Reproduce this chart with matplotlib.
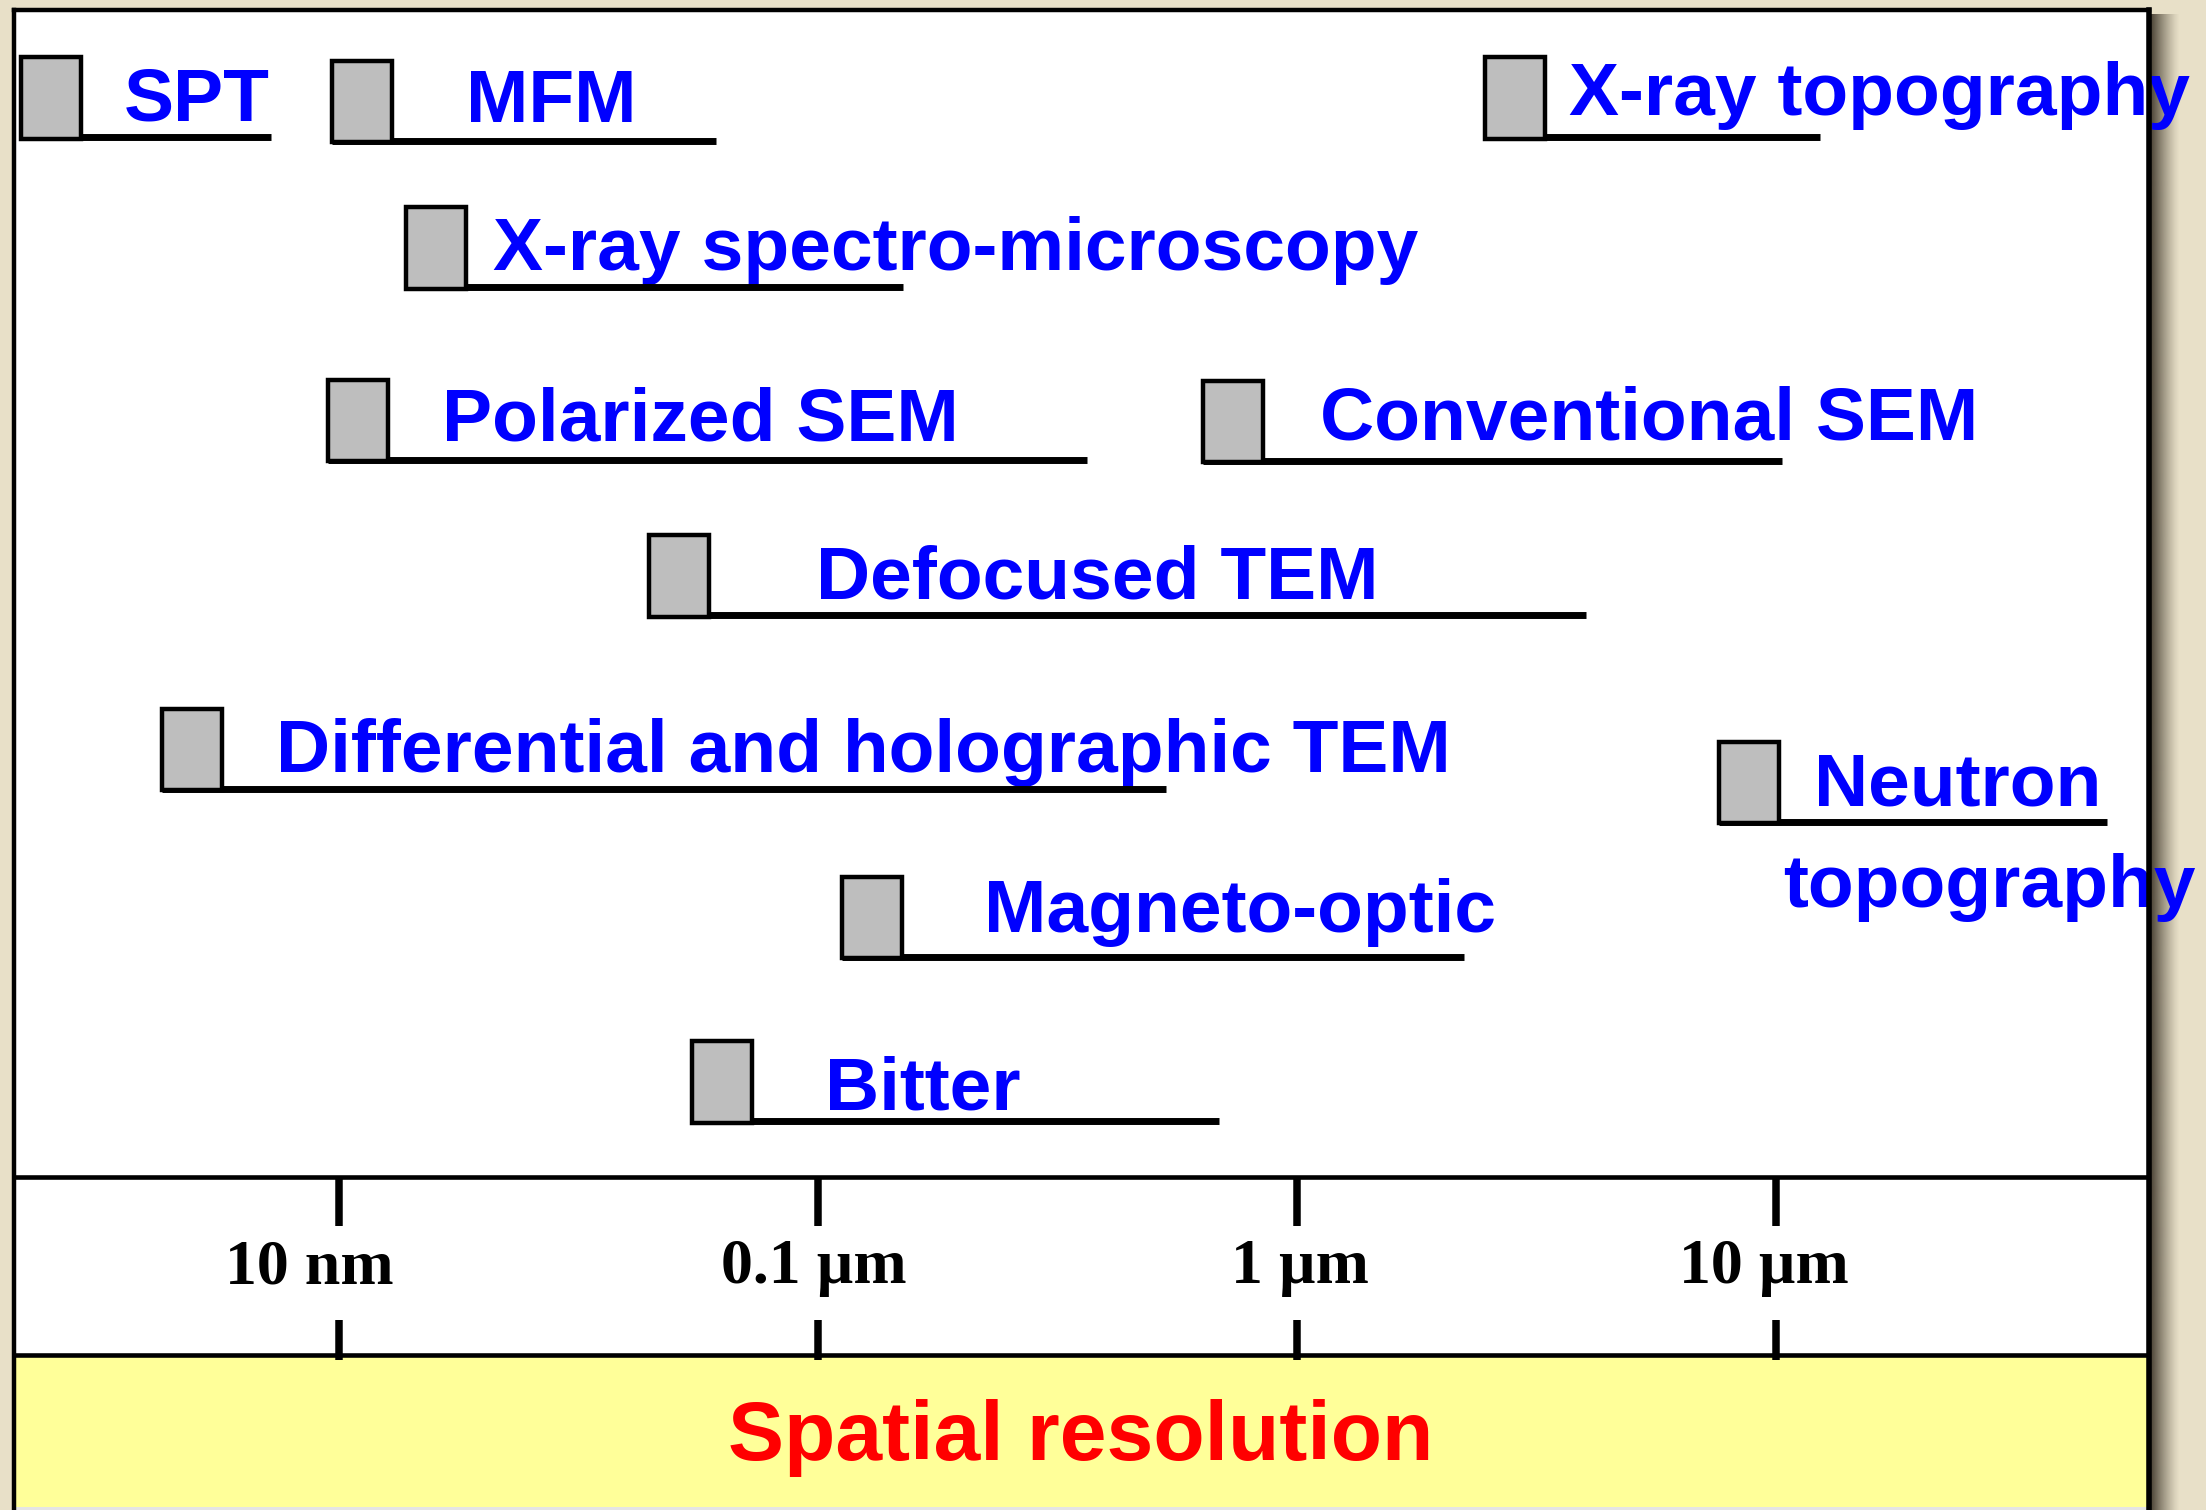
import numpy as np
import matplotlib
matplotlib.use("Agg")
import matplotlib.pyplot as plt
from matplotlib.patches import Rectangle
from matplotlib.transforms import ScaledTranslation, blended_transform_factory

# ---- resolution ranges of magnetic imaging techniques (micrometres) ----
TECHNIQUES = [
    "SPT",
    "MFM",
    "X-ray topography",
    "X-ray spectro-microscopy",
    "Polarized SEM",
    "Conventional SEM",
    "Defocused TEM",
    "Differential and holographic TEM",
    "Neutron\ntopography",
    "Magneto-optic",
    "Bitter",
]
RES_MIN_UM = [0.00216, 0.00966, 2.47, 0.01376, 0.00946, 0.637, 0.0444,
              0.00426, 7.62, 0.112, 0.0545]
RES_MAX_UM = [0.00719, 0.0612, 12.4, 0.1505, 0.365, 10.3, 4.01,
              0.534, 49.1, 2.23, 0.686]

TICK_VALUES_UM = [0.01, 0.1, 1.0, 10.0]
TICK_LABELS = ["10 nm", "0.1 µm", "1 µm", "10 µm"]
AXIS_TITLE = "Spatial resolution"

# ---- layout (vertical unit = 100 px from the top of the figure) ----
W_PX, H_PX, DPI = 2206, 1510, 100
ROW_Y = [1.373, 1.405, 1.373, 2.873, 4.595, 4.607, 6.153, 7.887, 8.217,
         9.567, 11.21]
LABEL_X_UM = [[0.00355], [0.0184], [3.70], [0.0209], [0.0164], [1.115],
              [0.0990], [0.00736], [12.0, 10.35], [0.2225], [0.1035]]
LABEL_BASE_Y = [[1.20], [1.22], [1.15], [2.70], [4.40], [4.39], [5.98],
                [7.72], [8.05, 9.07], [9.32], [11.09]]
TICK_LABEL_SHIFT_PX = [-30, -4, 3, -12]

XLIM_UM = (0.0020893, 60.07)
PANEL_LEFT_PX, PANEL_RIGHT_PX, PANEL_TOP_PX = 13.7, 2148.5, 10.3
BOX_DECADES = 0.1253
BOX_TOP_OFF, BOX_BOT_OFF = 0.80, 0.015

AXIS_LINE_Y, BAND_LINE_Y = 11.77, 13.545
TICK_UP = (11.77, 12.26)
TICK_DOWN = (13.20, 13.60)
TICK_LABEL_BASE = 12.83
YELLOW_SPAN = (13.57, 15.07)
TITLE_BASE = 14.60

BG = "#E8E0C8"
BLUE = "#0000FF"
RED = "#FF0000"
BOX_FACE = "#BEBEBE"
YELLOW = "#FFFF99"

fig = plt.figure(figsize=(W_PX / DPI, H_PX / DPI), dpi=DPI, facecolor=BG)

# soft drop shadow along the right edge of the panel
sax = fig.add_axes([2150 / W_PX, 0, 30 / W_PX, 1 - 14 / H_PX])
g = np.linspace(1.0, 0.0, 80) ** 1.3
shadow = np.zeros((1, g.size, 4))
shadow[..., 0] = 60 / 255
shadow[..., 1] = 52 / 255
shadow[..., 2] = 40 / 255
shadow[..., 3] = 0.95 * g
sax.imshow(shadow, aspect="auto", extent=(0, 1, 0, 1))
sax.set_axis_off()

ax = fig.add_axes([PANEL_LEFT_PX / W_PX, 0,
                   (PANEL_RIGHT_PX - PANEL_LEFT_PX) / W_PX,
                   1 - PANEL_TOP_PX / H_PX])
ax.set_facecolor("white")
ax.set_xscale("log")
ax.set_xlim(*XLIM_UM)
ax.set_ylim(H_PX / 100, PANEL_TOP_PX / 100)
ax.set_xticks([])
ax.set_yticks([])
ax.xaxis.set_minor_locator(matplotlib.ticker.NullLocator())
for side in ("left", "top"):
    ax.spines[side].set_linewidth(3.2)
ax.spines["right"].set_linewidth(4.0)
ax.spines["bottom"].set_visible(False)
for sp in ax.spines.values():
    sp.set_zorder(6)

label_font = dict(family="Liberation Sans", weight="bold", size=54,
                  color=BLUE)

# resolution ranges: grey box at the finest resolution, line up to the coarsest
for name, lo, hi, y, lxs, lys in zip(TECHNIQUES, RES_MIN_UM, RES_MAX_UM,
                                     ROW_Y, LABEL_X_UM, LABEL_BASE_Y):
    ax.plot([lo, hi], [y, y], color="black", lw=5.0,
            solid_capstyle="butt", zorder=3)
    box_w = lo * (10 ** BOX_DECADES - 1)
    ax.add_patch(Rectangle((lo, y - BOX_TOP_OFF), box_w,
                           BOX_TOP_OFF + BOX_BOT_OFF,
                           facecolor=BOX_FACE, edgecolor="black",
                           lw=3.2, zorder=4))
    for line_text, lx, ly in zip(name.split("\n"), lxs, lys):
        ax.text(lx, ly, line_text, ha="left", va="baseline",
                zorder=2, **label_font)

# scale band
ax.axhline(AXIS_LINE_Y, color="black", lw=3.3, zorder=5)
ax.axhline(BAND_LINE_Y, color="black", lw=3.3, zorder=5)
ax.axhspan(*YELLOW_SPAN, color=YELLOW, zorder=0.5, lw=0)
ax.axhspan(YELLOW_SPAN[1], H_PX / 100, color="#E4E4E4", zorder=0.5, lw=0)
ax.vlines(TICK_VALUES_UM, *TICK_UP, color="black", lw=5.4, zorder=5)
ax.vlines(TICK_VALUES_UM, *TICK_DOWN, color="black", lw=5.4, zorder=5)
for v, lab, dx in zip(TICK_VALUES_UM, TICK_LABELS, TICK_LABEL_SHIFT_PX):
    off = ScaledTranslation(dx / DPI, 0, fig.dpi_scale_trans)
    ax.text(v, TICK_LABEL_BASE, lab, ha="center", va="baseline",
            family="Liberation Serif", weight="bold", size=46,
            color="black", transform=ax.transData + off, zorder=5)

ax.text(0.5, TITLE_BASE, AXIS_TITLE, ha="center", va="baseline",
        transform=blended_transform_factory(ax.transAxes, ax.transData),
        family="Liberation Sans", weight="bold", size=60.5, color=RED,
        zorder=5)

fig.savefig("out.png", dpi=DPI, facecolor=BG)
